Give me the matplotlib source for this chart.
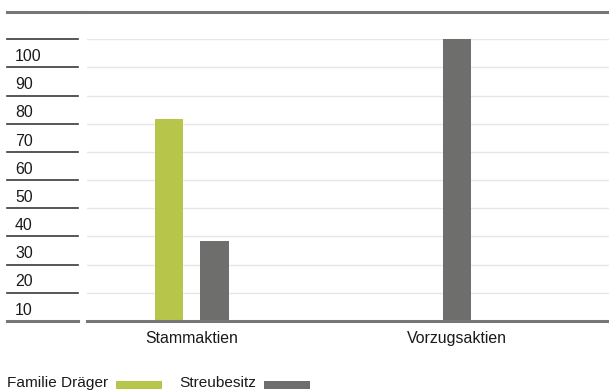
import matplotlib
matplotlib.use("Agg")
import matplotlib.pyplot as plt
import matplotlib.transforms as mtransforms
from matplotlib.patches import Rectangle
from matplotlib.lines import Line2D

plt.rcParams['font.family'] = ['Liberation Sans', 'DejaVu Sans']

categories = ["Stammaktien", "Vorzugsaktien"]
series_names = ["Familie Dräger", "Streubesitz"]
familie_draeger = [71.6, None]
streubesitz = [28.4, 100.0]
y_ticks = [10, 20, 30, 40, 50, 60, 70, 80, 90, 100]

GREEN = "#b7c64b"
GREY = "#6e6e6c"
TEXT = "#1a1a1a"
FS = 11.4
FS_LEG = 11.1

W, H = 609, 391
fig = plt.figure(figsize=(W / 100, H / 100), dpi=100)

# plot area in pixel terms
x0, x1 = 87, 609
y_base, y_top = 321, 39.3
ax = fig.add_axes([x0 / W, (H - y_base) / H, (x1 - x0) / W, (y_base - y_top) / H])
ax.set_ylim(0, 100)
ax.set_xlim(-0.395, 1.571)
for s in ax.spines.values():
    s.set_visible(False)
ax.set_xticks([])
ax.set_yticks([])
px = 100 / (y_base - y_top)  # data units per pixel

# light horizontal grid
for v in y_ticks:
    ax.axhline(v, color="#e6e6e6", lw=1.0, zorder=0)
ax.axhline(0, color="#777777", lw=2.2, zorder=3, clip_on=False)

bar_w = 0.106
off = 0.085
for i, cat in enumerate(categories):
    a = familie_draeger[i]
    b = streubesitz[i]
    if a is not None and b is not None:
        ax.bar(i - off, a, width=bar_w, color=GREEN, zorder=2)
        ax.bar(i + off, b, width=bar_w, color=GREY, zorder=2)
    elif b is not None:
        ax.bar(i, b, width=bar_w, color=GREY, zorder=2)
    elif a is not None:
        ax.bar(i, a, width=bar_w, color=GREEN, zorder=2)
    ax.text(i, -21.7 * px, cat, ha="center", va="baseline", fontsize=FS, color=TEXT)

# value labels column on the left, each sitting below its own rule
tr = mtransforms.blended_transform_factory(fig.transFigure, ax.transData)
for v in y_ticks:
    ax.add_line(Line2D([7 / W, 77.5 / W], [v, v], transform=tr, color="#3a3a3a",
                       lw=1.2, clip_on=False))
    ax.text(15 / W, v - 21.7 * px, str(v), transform=tr, ha="left", va="baseline",
            fontsize=FS, color=TEXT)
ax.add_line(Line2D([7 / W, 77.5 / W], [0, 0], transform=tr, color="#777777",
                   lw=2.2, clip_on=False))

# top rule
yt = 1 - 11.5 / H
fig.add_artist(Line2D([7 / W, 81.5 / W], [yt, yt], color="#777777", lw=2.2))
fig.add_artist(Line2D([82.5 / W, 1.0], [yt, yt], color="#777777", lw=2.2))

# legend: label followed by colour swatch
leg_y = 1 - 387.3 / H
fig.text(7 / W, leg_y, series_names[0], ha="left", va="baseline", fontsize=FS_LEG, color=TEXT)
fig.add_artist(Rectangle((116 / W, 1 - 388.7 / H), 46 / W, 7.7 / H,
                         transform=fig.transFigure, color=GREEN, lw=0))
fig.text(179 / W, leg_y, series_names[1], ha="left", va="baseline", fontsize=FS_LEG, color=TEXT)
fig.add_artist(Rectangle((264 / W, 1 - 388.7 / H), 46 / W, 7.7 / H,
                         transform=fig.transFigure, color=GREY, lw=0))

fig.savefig("out.png", dpi=100)
